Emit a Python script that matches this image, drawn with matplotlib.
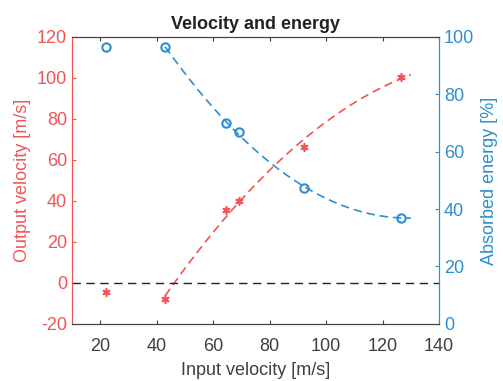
import numpy as np
import matplotlib
matplotlib.use("Agg")
import matplotlib.pyplot as plt

plt.rcParams['font.family'] = ['Liberation Sans', 'DejaVu Sans']
plt.rcParams['axes.unicode_minus'] = False

# Data
input_velocity = [22, 43, 64.5, 69, 92, 126.5]
output_velocity = [-4.5, -8, 35.5, 40, 66.5, 100.5]
absorbed_energy = [96.5, 96.5, 70, 67, 47.5, 37]

# Fitted trend lines (quadratic fits through points 2..6), drawn from x=43 to 130
fit_x = np.linspace(43, 130, 200)
red_coef = np.polyfit(input_velocity[1:], output_velocity[1:], 2)
blue_coef = np.polyfit(input_velocity[1:], absorbed_energy[1:], 2)

red = '#EE5656'
blue = '#2D8FD0'
dark = '#404040'

fig = plt.figure(figsize=(5.03, 3.81), dpi=100)
ax = fig.add_axes([0.143, 0.15, 0.73, 0.753])
ax2 = ax.twinx()

ax.plot(fit_x, np.polyval(red_coef, fit_x), '--', color=red, lw=1.2, dashes=(5, 3))
ax.plot(input_velocity, output_velocity, ls='none', marker=(6, 2, 0), color=red, ms=6, mew=1.2, mec=red)
ax.axhline(0, color='#222222', lw=1.0, ls='--', dashes=(6, 4))

ax2.plot(fit_x, np.polyval(blue_coef, fit_x), '--', color=blue, lw=1.2, dashes=(5, 3))
ax2.plot(input_velocity, absorbed_energy, 'o', mfc='none', mec=blue, mew=1.5, ms=6)

ax.set_xlim(10, 140)
ax.set_ylim(-20, 120)
ax2.set_ylim(0, 100)
ax.set_xticks([20, 40, 60, 80, 100, 120, 140])
ax.set_yticks([-20, 0, 20, 40, 60, 80, 100, 120])
ax2.set_yticks([0, 20, 40, 60, 80, 100])

fs = 13
ax.tick_params(axis='x', direction='in', top=True, colors=dark, labelsize=fs, length=3, pad=10)
ax.tick_params(axis='y', direction='in', colors=red, labelsize=fs, length=3)
ax2.tick_params(axis='y', direction='in', colors=blue, labelsize=fs, length=3)

for a in (ax, ax2):
    a.spines['top'].set_color(dark)
    a.spines['bottom'].set_color(dark)
    a.spines['left'].set_color(red)
    a.spines['right'].set_color(blue)

ax.set_xlabel('Input velocity [m/s]', fontsize=fs, color=dark, labelpad=5)
ax.set_ylabel('Output velocity [m/s]', fontsize=fs, color=red, labelpad=4)
ax2.set_ylabel('Absorbed energy [%]', fontsize=fs, color=blue, labelpad=5)
ax.set_title('Velocity and energy', fontsize=13, fontweight='bold', color='#222222', pad=6)

fig.savefig('out.png', dpi=100)
